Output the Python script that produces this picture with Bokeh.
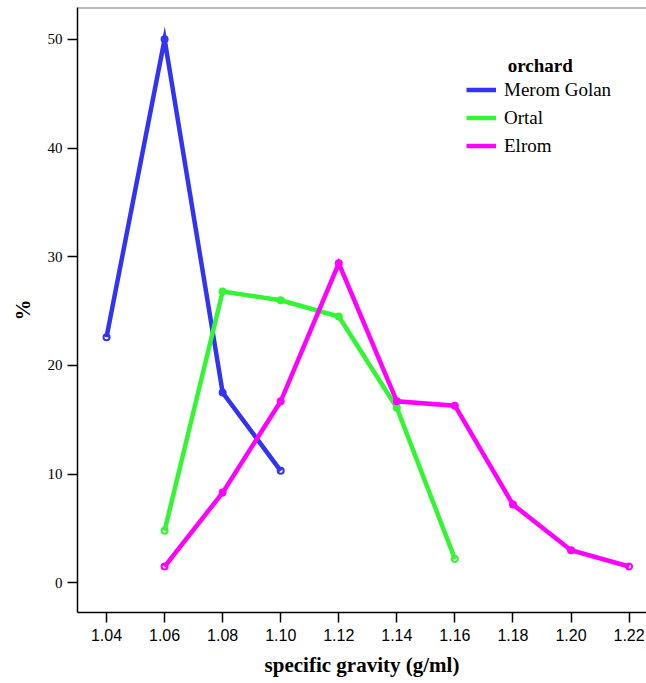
from bokeh.plotting import figure
from bokeh.models import Range1d, Legend, LegendItem, Span, Label, FixedTicker
from bokeh.embed import file_html
from bokeh.resources import INLINE

# data
series_names = ["Merom Golan", "Ortal", "Elrom"]
merom_x = [1.04, 1.06, 1.08, 1.10]
merom_y = [22.6, 50.0, 17.5, 10.3]
ortal_x = [1.06, 1.08, 1.10, 1.12, 1.14, 1.16]
ortal_y = [4.8, 26.8, 26.0, 24.5, 16.1, 2.2]
elrom_x = [1.06, 1.08, 1.10, 1.12, 1.14, 1.16, 1.18, 1.20, 1.22]
elrom_y = [1.5, 8.3, 16.7, 29.4, 16.7, 16.3, 7.2, 3.0, 1.5]
x_ticks = [1.04, 1.06, 1.08, 1.10, 1.12, 1.14, 1.16, 1.18, 1.20, 1.22]
y_ticks = [0, 10, 20, 30, 40, 50]
colors = ["#3333F5", "#33F533", "#FF00FF"]

p = figure(width=646, height=683, output_backend="svg", toolbar_location=None,
           x_range=Range1d(1.030, 1.2260), y_range=Range1d(-2.73, 52.93),
           min_border_left=77, min_border_right=0, min_border_top=7, min_border_bottom=71)
p.outline_line_color = None
p.grid.visible = False
p.background_fill_color = "white"

serif = "Liberation Serif"
sans = "Liberation Sans"

# axes
p.xaxis.ticker = FixedTicker(ticks=x_ticks)
p.xaxis.major_label_overrides = {t: f"{t:.2f}" for t in x_ticks}
p.yaxis.ticker = FixedTicker(ticks=y_ticks)
for ax in (p.xaxis[0], p.yaxis[0]):
    ax.axis_line_width = 1.5
    ax.axis_line_color = "black"
    ax.major_tick_line_width = 1.5
    ax.major_tick_line_color = "black"
    ax.major_tick_in = 0
    ax.major_tick_out = 10
    ax.minor_tick_line_color = None
    ax.axis_label_text_font_style = "bold"
    ax.axis_label_text_font = serif
    ax.axis_label_text_font_size = "21px"
    ax.axis_label_text_color = "black"
    ax.major_label_text_color = "black"

p.xaxis.major_label_text_font = sans
p.xaxis.major_label_text_font_size = "16px"
p.xaxis.major_label_standoff = 6
p.xaxis.axis_label = "specific gravity (g/ml)"
p.xaxis.axis_label_standoff = 9

p.yaxis.major_label_text_font = serif
p.yaxis.major_label_text_font_size = "15px"
p.yaxis.major_label_standoff = 5
p.yaxis.major_label_orientation = "horizontal"
p.yaxis.axis_label = "%"
p.yaxis.axis_label_standoff = 10

# top border line
p.add_layout(Span(location=52.93, dimension="width", line_color="#777777", line_width=2))

renderers = []
for xs, ys, c in zip([merom_x, ortal_x, elrom_x], [merom_y, ortal_y, elrom_y], colors):
    p.scatter(xs, ys, marker="circle", size=6, line_color=c, line_width=2, fill_color="white")
    r = p.line(xs, ys, line_color=c, line_width=4.5, line_join="miter")
    renderers.append(r)

legend = Legend(items=[LegendItem(label=n, renderers=[r]) for n, r in zip(series_names, renderers)],
                location=(389, 454), padding=0, margin=0, border_line_color=None,
                background_fill_alpha=0, glyph_width=30, glyph_height=25, label_height=25,
                spacing=3, label_standoff=8, label_text_font=serif, label_text_font_size="19px",
                label_text_color="black")
p.add_layout(legend)

p.add_layout(Label(x=1.1894, y=47.6, text="orchard", text_align="center",
                   text_baseline="middle", text_font=serif, text_font_style="bold",
                   text_font_size="19px", text_color="black"))

open("out.html", "w").write(file_html(p, INLINE))
